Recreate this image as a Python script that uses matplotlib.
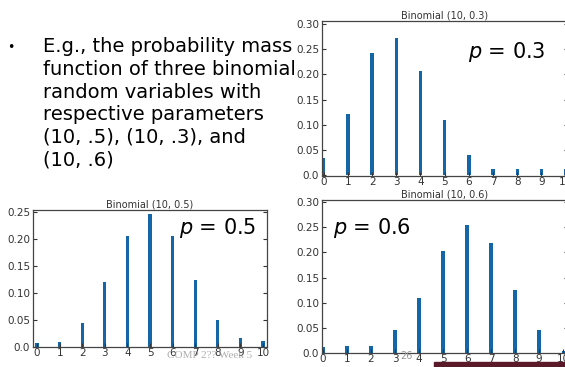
import matplotlib
matplotlib.use("Agg")
import matplotlib.pyplot as plt
from matplotlib.patches import Rectangle

k_values = list(range(11))
pmf_p05 = [0.008, 0.010, 0.044, 0.120, 0.206, 0.246, 0.206, 0.124, 0.050, 0.016, 0.012]
pmf_p03 = [0.033, 0.122, 0.242, 0.273, 0.206, 0.110, 0.040, 0.012, 0.012, 0.012, 0.012]
pmf_p06 = [0.012, 0.014, 0.014, 0.045, 0.110, 0.203, 0.255, 0.219, 0.125, 0.045, 0.004]

titles = ["Binomial (10, 0.5)", "Binomial (10, 0.3)", "Binomial (10, 0.6)"]
p_labels = ["$p$ = 0.5", "$p$ = 0.3", "$p$ = 0.6"]
yticks_05 = [0.0, 0.05, 0.10, 0.15, 0.20, 0.25]
yticks_03 = [0.0, 0.05, 0.10, 0.15, 0.20, 0.25, 0.30]
ytick_labels_05 = ["0.0", "0.05", "0.10", "0.15", "0.20", "0.25"]
ytick_labels_03 = ["0.0", "0.05", "0.10", "0.15", "0.20", "0.25", "0.30"]

bullet_lines = ["E.g., the probability mass",
                "function of three binomial",
                "random variables with",
                "respective parameters",
                "(10, .5), (10, .3), and",
                "(10, .6)"]

W, H = 565, 367
fig = plt.figure(figsize=(W / 100, H / 100), dpi=100)
fig.patch.set_facecolor("white")

bar_color = "#1466a6"
txt_color = "#333333"


def px_axes(left, top, right, bottom):
    return fig.add_axes([left / W, 1 - bottom / H, (right - left) / W, (bottom - top) / H])


def style(ax, values, title, yt, ytl, xlim, ylim):
    ax.bar(k_values, values, width=0.14, color=bar_color)
    ax.set_xlim(*xlim)
    ax.set_ylim(*ylim)
    ax.set_xticks(k_values)
    ax.set_xticklabels([str(k) for k in k_values])
    ax.set_yticks(yt)
    ax.set_yticklabels(ytl)
    ax.tick_params(direction="in", length=3, width=0.8, labelsize=7.5,
                   colors=txt_color, right=True, pad=2)
    ax.tick_params(axis="x", pad=1)
    for s in ax.spines.values():
        s.set_color("#444444")
        s.set_linewidth(0.9)
    ax.set_title(title, fontsize=7, color=txt_color, pad=2)


ax05 = px_axes(33, 210, 267, 347)
style(ax05, pmf_p05, titles[0], yticks_05, ytick_labels_05, (-0.18, 10.18), (0, 0.2537))

ax03 = px_axes(322, 21, 568, 176)
style(ax03, pmf_p03, titles[1], yticks_03, ytick_labels_03, (-0.07, 10.1), (-0.002, 0.306))

ax06 = px_axes(322, 200, 568, 353)
style(ax06, pmf_p06, titles[2], yticks_03, ytick_labels_03, (-0.04, 10.2), (0, 0.304))

# p labels
fig.text(218 / W, 1 - 228 / H, p_labels[0], fontsize=15, ha="center", va="center", color="black")
fig.text(507 / W, 1 - 52 / H, p_labels[1], fontsize=15, ha="center", va="center", color="black")
fig.text(372 / W, 1 - 228 / H, p_labels[2], fontsize=15, ha="center", va="center", color="black")

# slide text
fig.text(11 / W, 1 - 48 / H, "\u2022", fontsize=9, ha="center", va="center", color="black")
for i, line in enumerate(bullet_lines):
    fig.text(43 / W, 1 - (47 + i * 22.6) / H, line, fontsize=14, ha="left", va="center",
             color="black", family="DejaVu Sans")

# footer
fig.text(210 / W, 1 - 355 / H, "COMP 2?? Week 5", fontsize=8, ha="center", va="center",
         color="#9a9a9a", family="Liberation Serif", alpha=0.8)
fig.text(406 / W, 1 - 356 / H, "26", fontsize=7, ha="center", va="center", color="#999999")
fig.patches.append(Rectangle((434 / W, 0), 131 / W, 5 / H, transform=fig.transFigure,
                             color="#5a1a2a", zorder=0))

fig.savefig("out.png", dpi=100)
